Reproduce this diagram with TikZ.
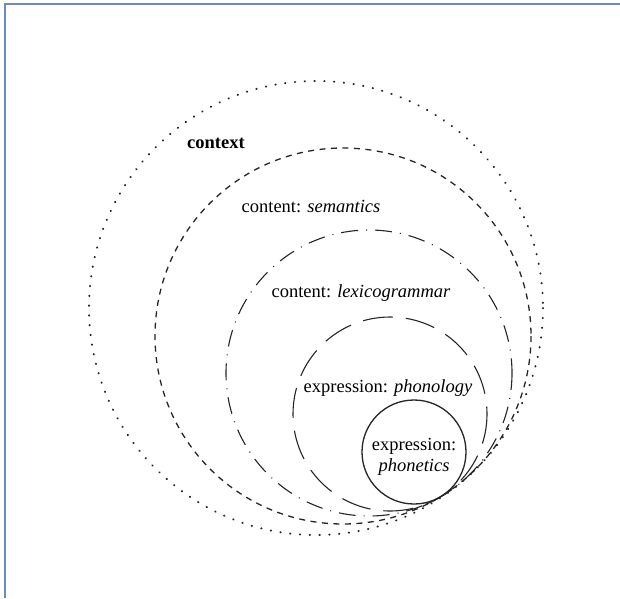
\documentclass[tikz,border=0pt]{standalone}
\usepackage{fontspec}
\setmainfont{Liberation Serif}
\definecolor{framecol}{RGB}{105,140,195}
\begin{document}
\begin{tikzpicture}[x=1pt,y=-1pt,
  ring/.style={line width=1.1pt, black!85},
  dotring/.style={black!85, line width=2pt, dash pattern=on 0.4pt off 9.4pt, line cap=round},
  dashring/.style={ring, line width=1.3pt, dash pattern=on 6pt off 5.5pt},
  dashdotring/.style={ring, dash pattern=on 17pt off 8pt on 1pt off 8pt},
  longdashring/.style={ring, dash pattern=on 30pt off 13pt},
  lbl/.style={font=\fontsize{18.5}{21}\selectfont, inner sep=0pt, anchor=base}]
\useasboundingbox (0,0) rectangle (620,598);
\fill[white] (0,0) rectangle (620,598);
\draw[framecol, line width=1.3pt] (5,598) -- (5,4) -- (620,4);
% circles
\draw[dotring] (316,308) circle[radius=227];
\draw[dashring] (343,336) circle[radius=188];
\draw[dashdotring] (369,373) circle[radius=143];
\draw[longdashring] (390,414) circle[radius=97];
\draw[ring, line width=1.3pt] (414,452) circle[radius=52];
% labels
\node[lbl] (ctx) at (216,148) {\textbf{context}};
\node[lbl] (sem) at (311,212) {content: \textit{semantics}};
\node[lbl] (lex) at (361,297) {content: \textit{lexicogrammar}};
\node[lbl] (pho) at (388,392) {expression: \textit{phonology}};
\node[font=\fontsize{18.5}{21}\selectfont, inner sep=0pt, align=center] (phn) at (414,457) {expression:\\\textit{phonetics}};
\end{tikzpicture}
\end{document}
